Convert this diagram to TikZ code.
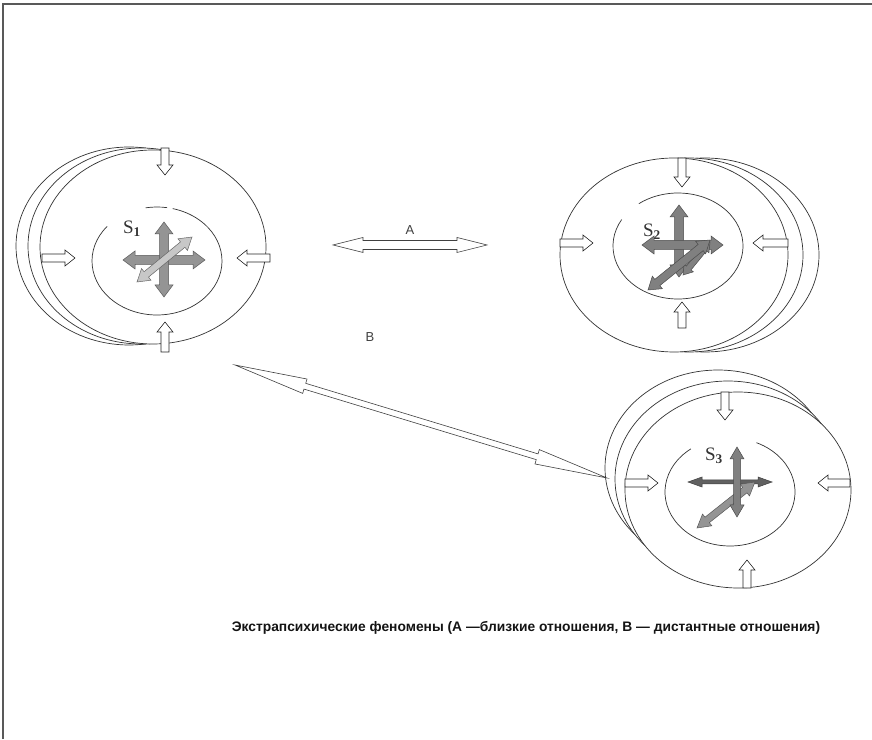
\documentclass[tikz,border=0pt]{standalone}
\usepackage{fontspec}
\setmainfont{Liberation Serif}
\setsansfont{Liberation Sans}
\newfontfamily\capfont{Liberation Sans}
\usetikzlibrary{shapes.geometric,calc}

\newcommand{\bavec}[2]{%
 \pgfpointanchor{#1}{center}\pgfgetlastxy{\bax}{\bay}%
 \pgfpointanchor{#2}{center}\pgfgetlastxy{\bbx}{\bby}%
 \pgfmathsetmacro{\baang}{atan2(\bby-\bay,\bbx-\bax)}%
 \pgfmathsetmacro{\balen}{veclen(\bbx-\bax,\bby-\bay)}}
% single block arrow: style, from, to, shaft half width, head half width, head length
\newcommand{\sarrow}[6]{%
 \bavec{#2}{#3}%
 \begin{scope}[shift={(#2)}, rotate=\baang]
  \draw[#1] (0,-#4) -- (\balen-#6,-#4) -- (\balen-#6,-#5) -- (\balen,0)
   -- (\balen-#6,#5) -- (\balen-#6,#4) -- (0,#4) -- cycle;
 \end{scope}}
% double block arrow
\newcommand{\darrow}[6]{%
 \bavec{#2}{#3}%
 \begin{scope}[shift={(#2)}, rotate=\baang]
  \draw[#1] (0,0) -- (#6,#5) -- (#6,#4) -- (\balen-#6,#4) -- (\balen-#6,#5) -- (\balen,0)
   -- (\balen-#6,-#5) -- (\balen-#6,-#4) -- (#6,-#4) -- (#6,-#5) -- cycle;
 \end{scope}}
\newcommand{\inarrow}[2]{%
 \coordinate (ia) at #1; \coordinate (ib) at #2;
 \sarrow{inw}{ia}{ib}{4}{8}{10}}
\newcommand{\grarrow}[6]{%
 \coordinate (ga) at #2; \coordinate (gb) at #3;
 \darrow{#1}{ga}{gb}{#4}{#5}{#6}}

\begin{document}
\begin{tikzpicture}[x=1pt,y=1pt,
  outer/.style={ellipse, draw=black!80, line width=0.7pt, fill=white, inner sep=0pt,
     minimum width=226pt, minimum height=196pt},
  innerl/.style={draw=black!80, line width=0.7pt},
  inw/.style={draw=black!85, line width=0.6pt, fill=white, line join=miter},
  link/.style={draw=black!75, line width=0.6pt, fill=white},
  grA/.style={draw=black!65, line width=0.5pt, fill=black!42},
  grB/.style={draw=black!60, line width=0.5pt, fill=black!22},
  grC/.style={draw=black!70, line width=0.5pt, fill=black!50},
  grD/.style={draw=black!75, line width=0.5pt, fill=black!62},
  slab/.style={inner sep=0pt, text=black!80, font=\fontsize{19}{19}\selectfont},
  rlab/.style={inner sep=0pt, text=black!75, font=\sffamily\fontsize{13}{13}\selectfont},
  frame/.style={draw=black!65, line width=1.5pt}]
\useasboundingbox (0,0) rectangle (872,739);
\fill[white] (0,0) rectangle (872,739);
\draw[frame] (3,0) -- (3,735) -- (872,735);

% ---------- S1 ----------
\node[outer, minimum height=198pt] (S1b2) at (129,493) {};
\node[outer, minimum height=196pt] (S1b1) at (141,493) {};
\node[outer, minimum height=194pt] (S1) at (153,492) {};
\draw[innerl] ([shift={(140:65pt and 54pt)}]157,478) arc[start angle=140,end angle=436,x radius=65pt,y radius=54pt];
\draw[innerl] ([shift={(81:65pt and 54pt)}]157,478) arc[start angle=81,end angle=100,x radius=65pt,y radius=54pt];
\inarrow{(165,591)}{(165,564)}
\inarrow{(165,387)}{(165,417)}
\inarrow{(42,481)}{(75,481)}
\inarrow{(270,481)}{(237,481)}
\grarrow{grA}{(123,479)}{(205,479)}{4.5}{9}{12}
\grarrow{grA}{(164,442)}{(164,517)}{4.5}{9}{12}
\grarrow{grB}{(137,457)}{(192,502)}{3.5}{7.5}{12}
\node[slab] (S1lab) at (132,510) {S\textsubscript{\textbf{1}}};

% ---------- S2 ----------
\node[outer, minimum width=228pt, minimum height=194pt] (S2b2) at (705,484) {};
\node[outer, minimum width=228pt, minimum height=194pt] (S2b1) at (689,484) {};
\node[outer, minimum width=228pt, minimum height=194pt] (S2) at (674,484) {};
\draw[innerl] ([shift={(150:65pt and 53pt)}]678,493) arc[start angle=150,end angle=487,x radius=65pt,y radius=53pt];
\inarrow{(682,581)}{(682,552)}
\inarrow{(682,411)}{(682,437)}
\inarrow{(560,496)}{(593,496)}
\inarrow{(788,496)}{(753,496)}
\grarrow{grC}{(679,462)}{(679,534)}{4.5}{9}{12}
\grarrow{grC}{(642,494)}{(723,494)}{4.5}{9}{12}
\grarrow{grC}{(683,464)}{(710,497)}{3}{6}{9}
\grarrow{grC}{(648,449)}{(710,499)}{4}{8}{12}
\node[slab] (S2lab) at (652,507) {S\textsubscript{\textbf{2}}};

% ---------- S3 ----------
\node[outer] (S3b2) at (718,271) {};
\node[outer] (S3b1) at (728,260) {};
\node[outer] (S3) at (738,249) {};
\draw[innerl] ([shift={(127:65pt and 54pt)}]730,247) arc[start angle=127,end angle=426,x radius=65pt,y radius=54pt];
\inarrow{(725,347)}{(725,319)}
\inarrow{(747,151)}{(747,179)}
\inarrow{(625,256)}{(658,256)}
\inarrow{(850,256)}{(818,256)}
\grarrow{grD}{(688,257)}{(772,257)}{2}{5}{14}
\grarrow{grA}{(697,211)}{(755,257)}{3.5}{7.5}{13}
\grarrow{grC}{(737,222)}{(737,292)}{3.5}{7}{12}
\node[slab] (S3lab) at (714,283) {S\textsubscript{\textbf{3}}};

% ---------- links ----------
\coordinate (Al) at (333,494);
\coordinate (Ar) at (487,494);
\darrow{link}{Al}{Ar}{4.5}{7.5}{30}
\node[rlab] (Alab) at (410,509) {A};
\coordinate (Bl) at (235,374);
\coordinate (Br) at (607,261);
\darrow{link}{Bl}{Br}{3}{7.5}{73}
\node[rlab] (Blab) at (370,402) {B};

% ---------- caption ----------
\node[inner sep=0pt, text=black!92, font=\capfont\bfseries\fontsize{13.8}{16}\selectfont] (cap) at (526,111)
 {Экстрапсихические феномены (А —близкие отношения, В — дистантные отношения)};
\end{tikzpicture}
\end{document}
